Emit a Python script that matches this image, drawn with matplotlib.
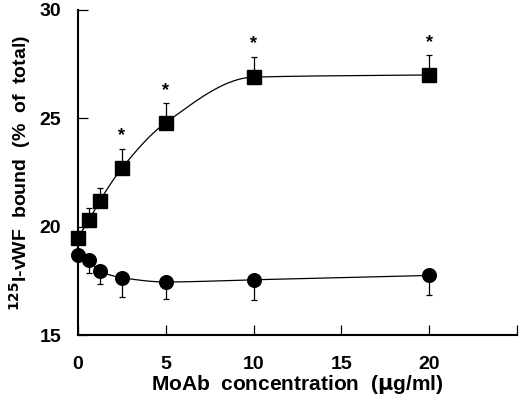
import numpy as np
import matplotlib
matplotlib.use('Agg')
import matplotlib.pyplot as plt

# MoAb concentration (ug/ml)
conc = [0, 0.625, 1.25, 2.5, 5, 10, 20]

# 125I-vWF bound (% of total)
sq_mean = [19.5, 20.3, 21.2, 22.7, 24.8, 26.9, 27.0]
sq_err = [0.0, 0.55, 0.6, 0.9, 0.9, 0.95, 0.9]
sq_sig = [False, False, False, True, True, True, True]

ci_mean = [18.7, 18.45, 17.95, 17.65, 17.45, 17.55, 17.75]
ci_err = [0.0, 0.6, 0.6, 0.9, 0.8, 0.95, 0.9]

xticks = [0, 5, 10, 15, 20, 25]
xticklabels = ['0', '5', '10', '15', '20', '']
yticks = [15, 20, 25, 30]


def pchip(x, y, xs):
    # monotone cubic through the means, used for the smooth guide line
    x = np.asarray(x, float)
    y = np.asarray(y, float)
    h = np.diff(x)
    d = np.diff(y) / h
    m = np.zeros_like(y)
    for k in range(1, len(x) - 1):
        if d[k - 1] * d[k] > 0:
            w1 = 2 * h[k] + h[k - 1]
            w2 = h[k] + 2 * h[k - 1]
            m[k] = (w1 + w2) / (w1 / d[k - 1] + w2 / d[k])
    m[0] = d[0]
    m[-1] = d[-1]
    idx = np.clip(np.searchsorted(x, xs) - 1, 0, len(x) - 2)
    t = (xs - x[idx]) / h[idx]
    h00 = 2 * t**3 - 3 * t**2 + 1
    h10 = t**3 - 2 * t**2 + t
    h01 = -2 * t**3 + 3 * t**2
    h11 = t**3 - t**2
    return (h00 * y[idx] + h10 * h[idx] * m[idx]
            + h01 * y[idx + 1] + h11 * h[idx] * m[idx + 1])


plt.rcParams['font.family'] = ['Liberation Sans', 'DejaVu Sans']
plt.rcParams['font.weight'] = 'bold'

fig = plt.figure(figsize=(5.2, 3.97), dpi=100)
ax = fig.add_axes([0.15, 0.156, 0.844, 0.819])

xs = np.linspace(0, 20, 300)
ax.plot(xs, pchip(conc, sq_mean, xs), color='black', lw=0.9, zorder=2)
ax.plot(xs, pchip(conc, ci_mean, xs), color='black', lw=0.9, zorder=2)

ax.errorbar(conc, sq_mean, yerr=[np.zeros(len(sq_err)), sq_err], fmt='none',
            ecolor='black', elinewidth=0.9, capsize=2.5, capthick=0.9, zorder=1)
ax.errorbar(conc, ci_mean, yerr=[ci_err, np.zeros(len(ci_err))], fmt='none',
            ecolor='black', elinewidth=0.9, capsize=2.5, capthick=0.9, zorder=1)

ax.plot(conc, sq_mean, 's', color='black', ms=9.5, zorder=3, clip_on=False)
ax.plot(conc, ci_mean, 'o', color='black', ms=9.8, zorder=3, clip_on=False)

for x, m, e, s in zip(conc, sq_mean, sq_err, sq_sig):
    if s:
        ax.annotate('*', (x, m + e), xytext=(0, 3), textcoords='offset points',
                    ha='center', va='bottom', fontsize=13, fontweight='bold')

ax.set_xlim(0, 25)
ax.set_ylim(15, 30)
ax.set_xticks(xticks)
ax.set_xticklabels(xticklabels)
ax.set_yticks(yticks)
for sp in ['top', 'right']:
    ax.spines[sp].set_visible(False)
for sp in ['left', 'bottom']:
    ax.spines[sp].set_linewidth(1.5)
ax.tick_params(direction='in', length=7, width=0.9, labelsize=14)
ax.tick_params(axis='x', pad=15)
ax.tick_params(axis='y', pad=12)

ax.set_xlabel(r'MoAb  concentration  ($\mathbf{\mu}$g/ml)', fontsize=15,
              fontweight='bold', labelpad=0)
ax.set_ylabel(r'$^{\mathbf{125}}$I-vWF  bound  (%  of  total)', fontsize=14,
              fontweight='bold', labelpad=5)

fig.savefig('out.png', dpi=100)
